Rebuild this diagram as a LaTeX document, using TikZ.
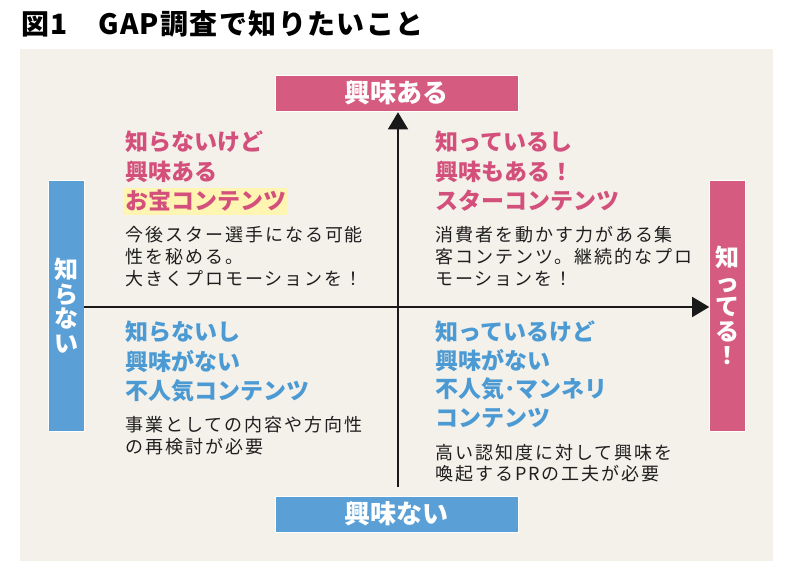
\documentclass[tikz,border=0pt]{standalone}
\usepackage{fontspec}
\setmainfont{Noto Sans CJK JP}
\usetikzlibrary{arrows.meta}

\definecolor{panelbg}{HTML}{F4F1EA}
\definecolor{starpink}{HTML}{D65B80}
\definecolor{lowblue}{HTML}{5A9FD6}
\definecolor{headpink}{HTML}{D4507C}
\definecolor{headblue}{HTML}{4B9AD3}
\definecolor{treasure}{HTML}{FFF5B3}

\begin{document}
\begin{tikzpicture}[
        x=1pt, y=-1pt,
        axisbox/.style={draw=white, line width=0.6pt, inner sep=0pt, text=white,
            font=\fontsize{26}{26}\selectfont\bfseries},
        sidebox/.style={axisbox, align=center, minimum width=36pt, minimum height=251pt,
            font=\fontsize{24}{24.5}\selectfont\bfseries},
        heading/.style={anchor=north west, inner sep=0pt, align=left,
            font=\fontsize{23}{29.5}\selectfont\bfseries},
        note/.style={anchor=north west, inner sep=0pt, align=left, text=black!88,
            font=\fontsize{18}{22}\selectfont\addfontfeatures{LetterSpace=11}},
        axis/.style={line width=1.6pt, black!90, -{Triangle[width=20pt,length=17pt]}}
    ]
    \useasboundingbox (0,0) rectangle (800,580);
    \fill[panelbg] (20,49) rectangle (773,561);

    % title
    \node[anchor=north west, inner sep=0pt, font=\fontsize{28}{28}\selectfont\bfseries\addfontfeatures{LetterSpace=5}]
        (title) at (21,10) {図1　GAP調査で知りたいこと};

    % axis labels
    \node[axisbox, fill=starpink, minimum width=243pt, minimum height=36pt] (interest) at (396.5,93) {興味ある};
    \node[axisbox, fill=lowblue, minimum width=243pt, minimum height=36pt] (nointerest) at (396.5,514) {興味ない};
    \node[sidebox, fill=lowblue] (unknown) at (66,305.5) {知\\ら\\な\\い};
    \node[sidebox, fill=starpink] (known) at (727.5,305.5) {知\\っ\\て\\る\\！};

    \draw[axis] ([xshift=1.5pt, yshift=9pt]nointerest.north) -- ([xshift=1.5pt, yshift=-1pt]interest.south);
    \draw[axis] ([yshift=-1.5pt]unknown.east) -- ([yshift=-1.5pt]known.west);

    % quadrants
    \fill[treasure] (123,188) rectangle (288,215);
    \node[heading, text=headpink] (treasurehead) at (125,131) {知らないけど\\興味ある\\お宝コンテンツ};
    \node[note] (treasurenote) at (125,226) {今後スター選手になる可能\\性を秘める。\\大きくプロモーションを！};

    \node[heading, text=headpink] (starhead) at (435,131) {知っているし\\興味もある！\\スターコンテンツ};
    \node[note] (starnote) at (435,226) {消費者を動かす力がある集\\客コンテンツ。継続的なプロ\\モーションを！};

    \node[heading, text=headblue] (dullhead) at (125,321) {知らないし\\興味がない\\不人気コンテンツ};
    \node[note] (dullnote) at (125,416) {事業としての内容や方向性\\の再検討が必要};

    \node[heading, text=headblue, font=\fontsize{23}{28.5}\selectfont\bfseries] (stalehead) at (435,321) {知っているけど\\興味がない\\不人気･マンネリ\\コンテンツ};
    \node[note, font=\fontsize{18}{21}\selectfont\addfontfeatures{LetterSpace=11}] (stalenote) at (435,444) {高い認知度に対して興味を\\喚起するPRの工夫が必要};
\end{tikzpicture}
\end{document}
